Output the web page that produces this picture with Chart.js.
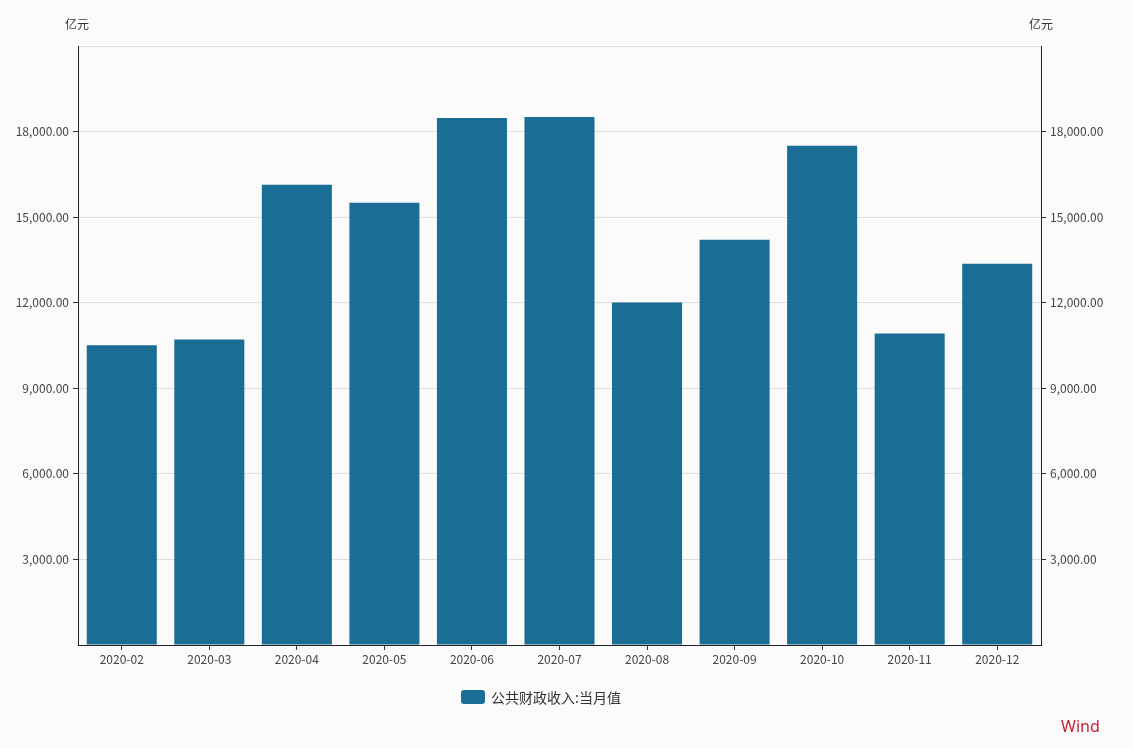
<!DOCTYPE html>
<html>
<head>
<meta charset="utf-8">
<script src="https://cdn.jsdelivr.net/npm/chart.js@4/dist/chart.umd.min.js"></script>
<style>
  html, body { margin: 0; padding: 0; background: #fbfbfb; }
  #wrap { position: relative; width: 1133px; height: 748px; }
  canvas { position: absolute; left: 0; top: 0; }
  .unit { position: absolute; top: 15px; font: 12px "Noto Sans CJK SC", sans-serif; color: #333; }
  #wind { position: absolute; left: 1061px; top: 715px; font: 16px "Noto Sans", "Liberation Sans", sans-serif; color: #c8202f; }
  #legend { position: absolute; left: 461px; top: 687px; height: 20px; display: flex; align-items: center;
            font: 14px "Noto Sans CJK SC", sans-serif; color: #333; white-space: nowrap; }
  #legend .box { width: 24px; height: 14px; border-radius: 3px; margin-right: 6px; }
</style>
</head>
<body>
<div id="wrap">
  <canvas id="c" width="1133" height="748"></canvas>
  <div class="unit" style="left:65px;">亿元</div>
  <div class="unit" style="left:1029px;">亿元</div>
  <div id="legend"><span class="box"></span><span class="txt"></span></div>
  <div id="wind">Wind</div>
</div>
<script>
const categories = ['2020-02','2020-03','2020-04','2020-05','2020-06','2020-07','2020-08','2020-09','2020-10','2020-11','2020-12'];
const revenueMonthly = [10510, 10710, 16135, 15505, 18480, 18515, 12005, 14210, 17500, 10920, 13370];
const seriesName = '公共财政收入:当月值';
const yMin = 0, yMax = 21000, yStep = 3000;

const FONT = '"Noto Sans CJK SC", "Noto Sans", sans-serif';
const barColor = '#1a6d94';

document.querySelector('#legend .box').style.background = barColor;
document.querySelector('#legend .txt').textContent = seriesName;

function fmt(v) {
  if (v === yMin || v === yMax) return '';
  return v.toLocaleString('en-US', { minimumFractionDigits: 2, maximumFractionDigits: 2 });
}
const tickCol = (ctx) => (ctx.tick && (ctx.tick.value === yMin || ctx.tick.value === yMax)) ? 'rgba(0,0,0,0)' : '#333';

new Chart(document.getElementById('c'), {
  type: 'bar',
  data: {
    labels: categories,
    datasets: [{
      label: seriesName,
      data: revenueMonthly,
      backgroundColor: barColor,
      borderWidth: 0,
      barPercentage: 0.8,
      categoryPercentage: 1.0,
      yAxisID: 'y'
    }]
  },
  options: {
    responsive: false,
    animation: false,
    devicePixelRatio: 1,
    layout: { padding: { top: 46, left: 0, right: 0, bottom: 69 } },
    plugins: {
      tooltip: { enabled: false },
      legend: { display: false }
    },
    scales: {
      x: {
        grid: { display: true, drawOnChartArea: false, offset: false, tickLength: 5, tickColor: '#333' },
        border: { color: '#222', width: 1 },
        ticks: { font: { family: FONT, size: 12 }, color: '#444', maxRotation: 0, padding: 2 },
        afterFit: (s) => { s.height = 34; }
      },
      y: {
        position: 'left',
        min: yMin, max: yMax,
        ticks: { stepSize: yStep, callback: fmt, font: { family: FONT, size: 12 }, color: '#444', padding: 4 },
        grid: { color: '#dedede', tickLength: 5, tickColor: tickCol },
        border: { color: '#222', width: 1 },
        afterFit: (s) => { s.width = 78; }
      },
      y2: {
        position: 'right',
        min: yMin, max: yMax,
        ticks: { stepSize: yStep, callback: fmt, font: { family: FONT, size: 12 }, color: '#444', padding: 4 },
        grid: { drawOnChartArea: false, tickLength: 5, tickColor: tickCol },
        border: { color: '#222', width: 1 },
        afterFit: (s) => { s.width = 92; }
      }
    }
  }
});
</script>
</body>
</html>
